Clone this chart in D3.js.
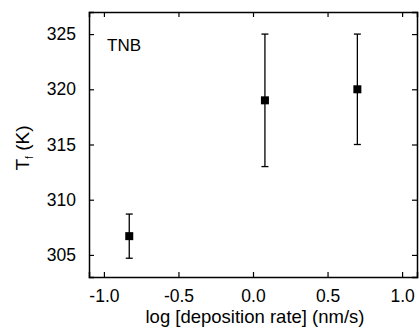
<!DOCTYPE html>
<html>
<head>
	<meta charset="utf-8">
	<script src="https://cdn.jsdelivr.net/npm/d3@7"></script>
<style type="text/css">
body { margin: 0; background: #fff; }
text { font-family: Arial, "Liberation Sans", sans-serif; fill: #000; }
.axis path, .axis line { stroke: #000; }
</style>
</head>
<body>
<script type="text/javascript">
	var rate = [-0.83, 0.08, 0.70];
	var tf = [306.7, 319.0, 320.0];
	var err = [2.0, 6.0, 5.0];
	var xTicks = [-1.0, -0.5, 0.0, 0.5, 1.0];
	var yTicks = [305, 310, 315, 320, 325];

	var w = 419, h = 329;
	var margin = {top: 12, left: 89, right: 2, bottom: 52};
	var iw = w - margin.left - margin.right, ih = h - margin.top - margin.bottom;

	var svg = d3.select("body").append("svg").attr("width", w).attr("height", h);
	var g = svg.append("g").attr("transform", "translate(" + margin.left + "," + margin.top + ")");

	var x = d3.scaleLinear().domain([-1.1, 1.1]).range([0, iw]);
	var y = d3.scaleLinear().domain([303, 327]).range([ih, 0]);

	// plain hyphen instead of d3's unicode minus
	var fmt = function(d){ return d3.format(".1f")(d).replace("\u2212", "-"); };
	// inward ticks on all four sides, labels only bottom/left
	g.append("g").attr("class", "axis").attr("transform", "translate(0," + ih + ")")
		.call(d3.axisBottom(x).tickValues(xTicks).tickSize(-5).tickPadding(13).tickFormat(fmt))
		.call(function(a){ a.selectAll("text").attr("font-size", 17.5); });
	g.append("g").attr("class", "axis")
		.call(d3.axisTop(x).tickValues(xTicks).tickSize(-5).tickFormat(""));
	g.append("g").attr("class", "axis")
		.call(d3.axisLeft(y).tickValues(yTicks).tickSize(-5).tickPadding(13))
		.call(function(a){ a.selectAll("text").attr("font-size", 17.5); });
	g.append("g").attr("class", "axis").attr("transform", "translate(" + iw + ",0)")
		.call(d3.axisRight(y).tickValues(yTicks).tickSize(-5).tickFormat(""));
	g.selectAll(".axis path").attr("stroke-width", 1.5);
	g.selectAll(".axis line").attr("stroke-width", 1.2);

	var pts = rate.map(function(d, i){ return {x: d, y: tf[i], e: err[i]}; });

	g.selectAll(".eb").data(pts).enter().append("line")
		.attr("x1", function(d){ return x(d.x); }).attr("x2", function(d){ return x(d.x); })
		.attr("y1", function(d){ return y(d.y - d.e); }).attr("y2", function(d){ return y(d.y + d.e); })
		.attr("stroke", "#000").attr("stroke-width", 1.3);
	[-1, 1].forEach(function(s){
		g.selectAll(".cap" + s).data(pts).enter().append("line")
			.attr("x1", function(d){ return x(d.x) - 3.5; }).attr("x2", function(d){ return x(d.x) + 3.5; })
			.attr("y1", function(d){ return y(d.y + s * d.e); }).attr("y2", function(d){ return y(d.y + s * d.e); })
			.attr("stroke", "#000").attr("stroke-width", 1.3);
	});
	g.selectAll(".pt").data(pts).enter().append("rect")
		.attr("x", function(d){ return x(d.x) - 4; }).attr("y", function(d){ return y(d.y) - 4; })
		.attr("width", 8).attr("height", 8).attr("fill", "#000");

	g.append("text").attr("x", 18).attr("y", 39).attr("font-size", 17).text("TNB");

	svg.append("text").attr("x", 255).attr("y", 323)
		.attr("text-anchor", "middle").attr("font-size", 18.5).text("log [deposition rate] (nm/s)");

	var yl = svg.append("text").attr("transform", "translate(29,148) rotate(-90)")
		.attr("text-anchor", "middle").attr("font-size", 19);
	yl.append("tspan").text("T");
	yl.append("tspan").attr("font-size", 10).attr("dy", 4).text("f");
	yl.append("tspan").attr("dy", -4).text(" (K)");
</script>
</body>
</html>
